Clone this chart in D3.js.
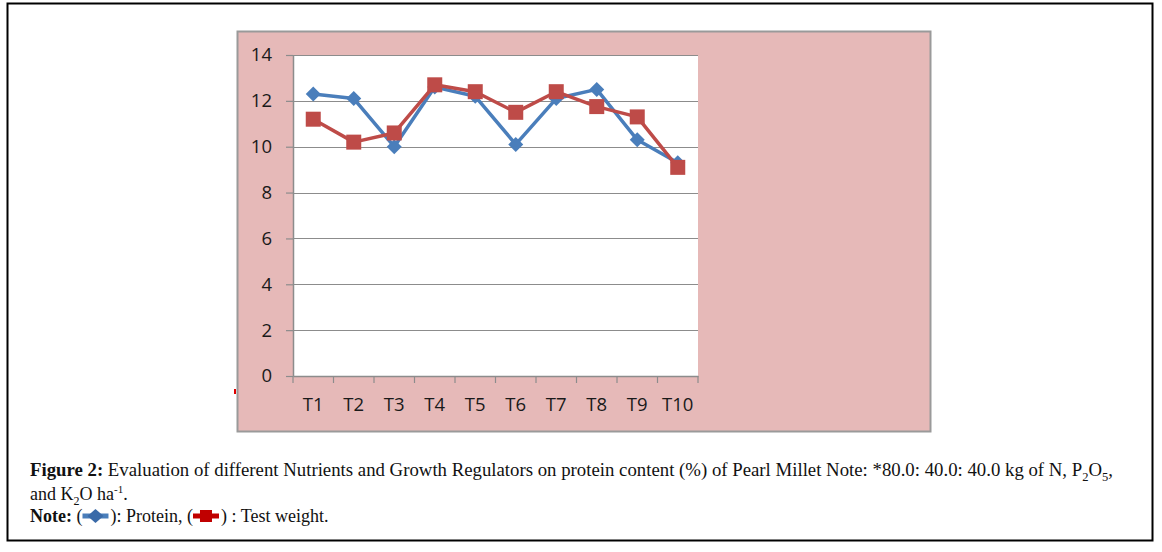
<!DOCTYPE html>
<html><head><meta charset="utf-8">
<script src="https://cdn.jsdelivr.net/npm/d3@7"></script>
<style>body{margin:0;background:#fff}svg{display:block}text{white-space:pre}</style>
</head><body>
<svg id="c" width="1162" height="552"></svg>
<script>
const categories = ["T1","T2","T3","T4","T5","T6","T7","T8","T9","T10"];
const protein = [12.3,12.1,10.0,12.6,12.2,10.1,12.1,12.5,10.3,9.3];
const testWeight = [11.2,10.2,10.6,12.7,12.4,11.5,12.4,11.75,11.3,9.1];
const yTicks = [0,2,4,6,8,10,12,14];

const svg = d3.select("#c");
svg.append("rect").attr("x",7.5).attr("y",3.5).attr("width",1145).attr("height",537)
  .attr("fill","#fff").attr("stroke","#000").attr("stroke-width",2);
svg.append("rect").attr("x",237.5).attr("y",31.5).attr("width",693).attr("height",400)
  .attr("fill","#e6b9b8").attr("stroke","#9a9a9a").attr("stroke-width",2);
svg.append("rect").attr("x",234).attr("y",389).attr("width",2).attr("height",5).attr("fill","#e00000");

const L=293, R=698, T=55, B=376;
const x = d3.scaleBand().domain(categories).range([L,R]);
const y = d3.scaleLinear().domain([0,14]).range([B,T]);

svg.append("rect").attr("x",L).attr("y",T).attr("width",R-L).attr("height",B-T).attr("fill","#fff");

svg.append("g").selectAll("line").data(yTicks.filter(d=>d>0)).join("line")
  .attr("x1",L).attr("x2",R).attr("y1",d=>Math.round(y(d))+0.5).attr("y2",d=>Math.round(y(d))+0.5)
  .attr("stroke","#8c8c8c").attr("stroke-width",1.2);

const af = "'Open Sans', 'Liberation Sans', sans-serif";
const ya = svg.append("g").attr("transform",`translate(${L},0)`)
  .call(d3.axisLeft(y).tickValues(yTicks).tickSize(7).tickPadding(14).tickSizeOuter(0));
ya.select(".domain").attr("stroke","#8c8c8c").attr("stroke-width",1.5);
ya.selectAll(".tick line").attr("stroke","#8c8c8c").attr("stroke-width",1.2);
ya.selectAll("text").attr("font-family",af).attr("font-size",18.5).attr("fill","#1a1a1a");

const xa = svg.append("g").attr("transform",`translate(0,${B})`)
  .call(d3.axisBottom(x).tickSize(0).tickPadding(22));
xa.select(".domain").attr("stroke","#8c8c8c").attr("stroke-width",1.5);
xa.selectAll(".tick line").remove();
xa.selectAll("text").attr("font-family",af).attr("font-size",18.5).attr("fill","#1a1a1a");
const bounds = categories.map(c=>x(c)).concat([R]);
svg.append("g").selectAll("line").data(bounds).join("line")
  .attr("x1",d=>d).attr("x2",d=>d).attr("y1",B).attr("y2",B+7)
  .attr("stroke","#8c8c8c").attr("stroke-width",1.2);

const cx = c=>x(c)+x.bandwidth()/2;
const line = d3.line().x((d,i)=>cx(categories[i])).y(d=>y(d));

const blue="#4a7ebb", red="#be4b48";
svg.append("path").datum(protein).attr("d",line).attr("fill","none").attr("stroke",blue).attr("stroke-width",3.5).attr("stroke-linejoin","round");
svg.append("g").selectAll("path").data(protein).join("path")
  .attr("d","M0,-7.5L7.5,0L0,7.5L-7.5,0Z").attr("fill",blue)
  .attr("transform",(d,i)=>`translate(${cx(categories[i])},${y(d)})`);
svg.append("path").datum(testWeight).attr("d",line).attr("fill","none").attr("stroke",red).attr("stroke-width",3.5).attr("stroke-linejoin","round");
svg.append("g").selectAll("rect").data(testWeight).join("rect")
  .attr("x",(d,i)=>cx(categories[i])-7.5).attr("y",d=>y(d)-7.5).attr("width",15).attr("height",15).attr("fill",red);

const ff = "'Liberation Serif','DejaVu Serif',serif";
const fs = 18;
const t1 = svg.append("text").attr("x",30).attr("y",476).attr("font-family",ff).attr("font-size",fs).attr("fill","#111")
  .attr("textLength",1083).attr("lengthAdjust","spacingAndGlyphs");
t1.append("tspan").attr("font-weight","bold").text("Figure 2:");
t1.append("tspan").text(" Evaluation of different Nutrients and Growth Regulators on protein content (%) of Pearl Millet Note: *80.0: 40.0: 40.0 kg of N, P");
t1.append("tspan").attr("font-size",12).attr("dy",5).text("2");
t1.append("tspan").attr("dy",-5).text("O");
t1.append("tspan").attr("font-size",12).attr("dy",5).text("5");
t1.append("tspan").attr("dy",-5).text(",");

const t2 = svg.append("text").attr("x",30).attr("y",500).attr("font-family",ff).attr("font-size",fs).attr("fill","#111");
t2.append("tspan").text("and K");
t2.append("tspan").attr("font-size",12).attr("dy",5).text("2");
t2.append("tspan").attr("dy",-5).text("O ha");
t2.append("tspan").attr("font-size",11).attr("dy",-7).text("-1");
t2.append("tspan").attr("dy",7).text(".");

let cxp = 30;
const y3 = 522;
function piece(str, bold){
  const t = svg.append("text").attr("x",cxp).attr("y",y3).attr("font-family",ff).attr("font-size",fs)
    .attr("fill","#111").attr("font-weight",bold?"bold":"normal").text(str);
  cxp += t.node().getComputedTextLength();
}
piece("Note:", true);
piece(" (", false);
svg.append("line").attr("x1",cxp).attr("x2",cxp+26).attr("y1",y3-6).attr("y2",y3-6).attr("stroke",blue).attr("stroke-width",5);
svg.append("path").attr("d","M0,-7L8,0L0,7L-8,0Z").attr("fill","#3a6aa8").attr("transform",`translate(${cxp+13},${y3-6})`);
cxp += 28;
piece("): Protein, (", false);
svg.append("line").attr("x1",cxp).attr("x2",cxp+26).attr("y1",y3-6).attr("y2",y3-6).attr("stroke","#c00000").attr("stroke-width",5);
svg.append("rect").attr("x",cxp+7).attr("y",y3-12).attr("width",12).attr("height",12).attr("fill","#c00000");
cxp += 28;
piece(") : Test weight.", false);
</script>
</body></html>
